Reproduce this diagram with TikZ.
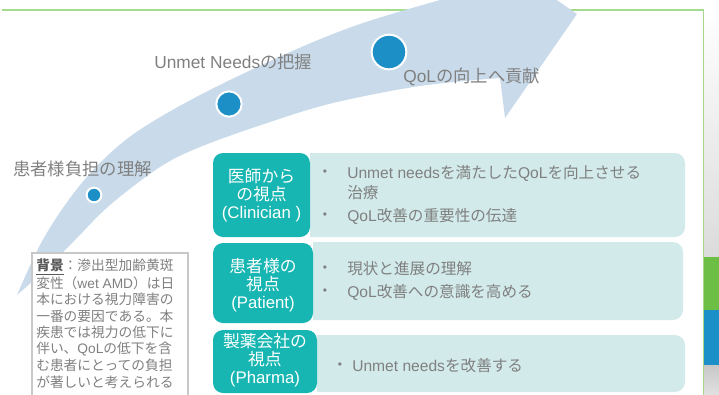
\documentclass[tikz,border=0pt]{standalone}
\usepackage{fontspec}
\setmainfont{Noto Sans CJK JP}
\newfontfamily\la{Liberation Sans}
\newfontfamily\jp{Noto Sans CJK JP}
\definecolor{bandblue}{HTML}{C9DBEA}
\definecolor{dotblue}{HTML}{1B8FC6}
\definecolor{tealbox}{HTML}{17B6B2}
\definecolor{lightbox}{HTML}{D2EAEA}
\definecolor{txtgray}{HTML}{808080}
\definecolor{linegreen}{HTML}{A6DB8E}
\definecolor{stripgreen}{HTML}{6DBE45}
\definecolor{stripblue}{HTML}{1A8FC8}
\definecolor{boxline}{HTML}{C8C8C8}
\begin{document}
\begin{tikzpicture}[x=0.75pt,y=-0.75pt,
  biglabel/.style={font=\fontsize{13}{15}\selectfont\jp, text=txtgray, anchor=west, inner sep=0},
  tealtxt/.style={font=\fontsize{12.6}{13.5}\selectfont\jp, text=white, align=center, inner sep=0},
  itemtxt/.style={font=\fontsize{11.7}{14}\selectfont\jp, text=txtgray, anchor=west, inner sep=0},
  bullettxt/.style={font=\fontsize{9}{12}\selectfont\la, text=txtgray, inner sep=0},
  bgline/.style={font=\fontsize{10.3}{12}\selectfont\jp, text=txtgray, anchor=west, inner sep=0},
  dotnode/.style={circle, fill=dotblue, draw=white, line width=1.5pt, inner sep=0}]
\useasboundingbox (0,0) rectangle (719,394);
\clip (0,0) rectangle (719,394);
% frame lines
\draw[linegreen, line width=0.9pt] (2,10) -- (703.5,10) -- (703.5,396);
% right strip
\shade[top color=white, bottom color=black!14] (704,10) rectangle (719,257);
\fill[stripgreen] (704,257) rectangle (719,310);
\fill[stripblue] (704,310) rectangle (719,365);
\shade[top color=black!22, bottom color=black!12] (704,365) rectangle (719,394);
% curved arrow band
\fill[bandblue] plot[smooth, tension=0.55] coordinates {(17,295) (40,245) (65,205) (95,168) (135,133) (200,95) (290,52) (360,24) (440,0) (485,-12)}
  -- (470,-60) -- (577,14) -- (505,118) -- (500,78)
  -- plot[smooth, tension=0.55] coordinates {(500,78) (420,86) (333,103) (267,123) (200,147) (160,167) (110,205) (75,240) (45,270) (17,295)} -- cycle;
% dots
\node[dotnode, minimum size=11pt] (d1) at (94,195) {};
\node[dotnode, minimum size=19pt] (d2) at (229,104) {};
\node[dotnode, minimum size=26pt] (d3) at (389,52) {};
% labels
\node[biglabel] (l1) at (13,169) {患者様負担の理解};
\node[biglabel] (l2) at (154,62) {{\la Unmet Needs}の把握};
\node[biglabel] (l3) at (403,77) {{\la QoL}の向上へ貢献};
% background box
\draw[boxline, fill=white, line width=0.8pt] (32,253) rectangle (188,400);
\node[bgline] (g1) at (36,267.0) {{\color{black!65}\underline{\textbf{背景}}}：滲出型加齢黄斑};
\node[bgline] (g2) at (36,283.4) {変性（{\la wet AMD}）は日};
\node[bgline] (g3) at (36,299.8) {本における視力障害の};
\node[bgline] (g4) at (36,316.2) {一番の要因である。本};
\node[bgline] (g5) at (36,332.6) {疾患では視力の低下に};
\node[bgline] (g6) at (36,349.0) {伴い、{\la QoL}の低下を含};
\node[bgline] (g7) at (36,365.4) {む患者にとっての負担};
\node[bgline] (g8) at (36,381.8) {が著しいと考えられる};
% row 1
\fill[lightbox] (310,153) [rounded corners=7.5pt] -- (685,153) -- (685,237) [sharp corners] -- (310,237) -- cycle;
\fill[tealbox, rounded corners=7.5pt] (213,153) rectangle (310,237);
\node[tealtxt] (t1) at (261.5,195) {医師から\\の視点\\{\la (Clinician )}};
\node[bullettxt] (b11) at (325,173) {•};
\node[itemtxt] (i11) at (347,173) {{\la Unmet needs}を満たした{\la QoL}を向上させる};
\node[itemtxt] (i12) at (347,193) {治療};
\node[bullettxt] (b12) at (325,216) {•};
\node[itemtxt] (i13) at (347,216) {{\la QoL}改善の重要性の伝達};
% row 2
\fill[lightbox] (313,242) [rounded corners=7.5pt] -- (683,242) -- (683,320) [sharp corners] -- (313,320) -- cycle;
\fill[tealbox, rounded corners=7.5pt] (213,243) rectangle (313,323);
\node[tealtxt] (t2) at (263,285) {患者様の\\視点\\{\la (Patient)}};
\node[bullettxt] (b21) at (325,269) {•};
\node[itemtxt] (i21) at (347,269) {現状と進展の理解};
\node[bullettxt] (b22) at (325,292) {•};
\node[itemtxt] (i22) at (347,292) {{\la QoL}改善への意識を高める};
% row 3
\fill[lightbox] (317,335) [rounded corners=7.5pt] -- (685,335) -- (685,392) [sharp corners] -- (317,392) -- cycle;
\fill[tealbox, rounded corners=7.5pt] (213,330) rectangle (317,393);
\node[tealtxt] (t3) at (265,360) {製薬会社の\\視点\\{\la (Pharma)}};
\node[bullettxt] (b31) at (340,366) {•};
\node[itemtxt] (i31) at (352,366) {{\la Unmet needs}を改善する};
\end{tikzpicture}
\end{document}
